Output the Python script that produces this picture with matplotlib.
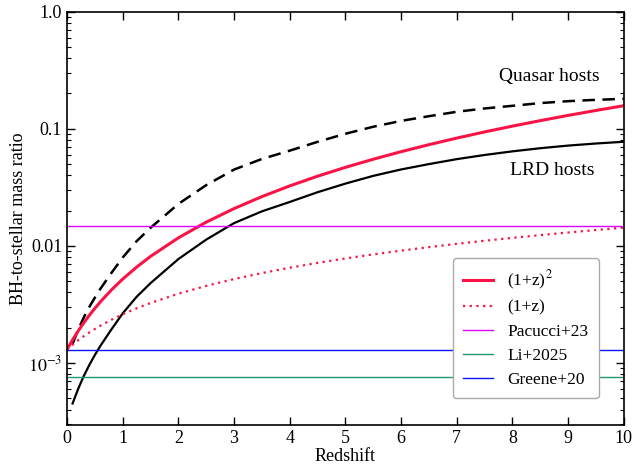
import numpy as np
import matplotlib
matplotlib.use("Agg")
import matplotlib.pyplot as plt
from matplotlib.ticker import FixedLocator, FixedFormatter, LogLocator, NullFormatter

plt.rcParams['font.family'] = ['Liberation Serif', 'DejaVu Serif']
plt.rcParams['mathtext.fontset'] = 'stix'

# Redshift grid (read points)
z_grid = [0.1, 0.2, 0.3, 0.4, 0.5, 0.6, 0.8, 1.0, 1.25, 1.5, 2.0, 2.5, 3.0, 3.5,
          4.0, 4.5, 5.0, 5.5, 6.0, 6.5, 7.0, 7.5, 8.0, 8.5, 9.0, 9.5, 10.0]
lrd_hosts = [4.50e-4, 6.00e-4, 7.71e-4, 9.59e-4, 1.169e-3, 1.40e-3, 1.94e-3, 2.65e-3,
             3.67e-3, 4.80e-3, 7.71e-3, 0.0113, 0.01563, 0.0197, 0.0237, 0.0287,
             0.0340, 0.0396, 0.0449, 0.0499, 0.0550, 0.0597, 0.0641, 0.0682,
             0.0718, 0.0748, 0.0774]
quasar_hosts = [1.455e-3, 1.92e-3, 2.44e-3, 3.00e-3, 3.61e-3, 4.30e-3, 5.89e-3, 7.94e-3,
                0.01096, 0.01426, 0.0228, 0.0330, 0.0448, 0.0552, 0.0650, 0.0773,
                0.0906, 0.104, 0.1167, 0.128, 0.1396, 0.149, 0.157, 0.1656,
                0.172, 0.1766, 0.180]

z_red = [0.0, 0.1, 0.2, 0.3, 0.4, 0.5, 0.6, 0.8, 1.0, 1.25, 1.5, 2.0, 2.5, 3.0, 3.5,
         4.0, 4.5, 5.0, 5.5, 6.0, 6.5, 7.0, 7.5, 8.0, 8.5, 9.0, 9.5, 10.0]
red_sq = [1.3e-3, 1.573e-3, 1.872e-3, 2.197e-3, 2.548e-3, 2.925e-3, 3.328e-3, 4.212e-3,
          5.2e-3, 6.581e-3, 8.125e-3, 0.0117, 0.01593, 0.0208, 0.02633, 0.0325,
          0.03933, 0.0468, 0.05493, 0.0637, 0.07313, 0.0832, 0.09393, 0.1053,
          0.1173, 0.1300, 0.1433, 0.1573]
red_lin = [1.3e-3, 1.43e-3, 1.56e-3, 1.69e-3, 1.82e-3, 1.95e-3, 2.08e-3, 2.34e-3,
           2.6e-3, 2.925e-3, 3.25e-3, 3.9e-3, 4.55e-3, 5.2e-3, 5.85e-3, 6.5e-3,
           7.15e-3, 7.8e-3, 8.45e-3, 9.1e-3, 9.75e-3, 0.0104, 0.01105, 0.0117,
           0.01235, 0.0130, 0.01365, 0.0143]

pacucci = 0.0148
li2025 = 7.6e-4
greene = 1.3e-3

ytick_vals = [1e-3, 1e-2, 1e-1, 1.0]
ytick_labels = [r'$10^{-3}$', '0.01', '0.1', '1.0']
xtick_vals = list(range(0, 11))

red = '#fa1446'
fig = plt.figure(figsize=(6.34, 4.66), dpi=100)
ax = fig.add_axes([0.1057, 0.088, 0.8783, 0.887])

ax.plot(z_grid, quasar_hosts, color='black', lw=1.8, ls=(0, (5, 3)))
ax.plot(z_grid, lrd_hosts, color='black', lw=1.6)
ax.plot(z_red, red_sq, color=red, lw=2.2, label=r'(1+z)$^2$')
ax.plot(z_red, red_lin, color=red, lw=1.6, ls=(0, (1, 2)), label='(1+z)')
ax.axhline(pacucci, color='#e000ff', lw=1.0, label='Pacucci+23')
ax.axhline(li2025, color='#1f9a6a', lw=1.0, label='Li+2025')
ax.axhline(greene, color='#0a14ff', lw=1.0, label='Greene+20')

ax.set_yscale('log')
ax.set_xlim(0, 10)
ax.set_ylim(2.95e-4, 1.0)
ax.yaxis.set_major_locator(FixedLocator(ytick_vals))
ax.yaxis.set_major_formatter(FixedFormatter(ytick_labels))
ax.yaxis.set_minor_locator(LogLocator(base=10, subs=np.arange(2, 10)))
ax.yaxis.set_minor_formatter(NullFormatter())
ax.set_xticks(xtick_vals)

ax.tick_params(which='both', direction='in', top=True, right=True, labelsize=13)
ax.tick_params(which='major', length=6, width=1)
ax.tick_params(which='minor', length=3, width=0.8)
for s in ax.spines.values():
    s.set_linewidth(1.2)

ax.set_xlabel('Redshift', fontsize=13, labelpad=1)
ax.set_ylabel('BH-to-stellar mass ratio', fontsize=13)
ax.yaxis.set_label_coords(-0.072, 0.5)

ax.text(8.67, 0.28, 'Quasar hosts', fontsize=14, ha='center', va='center')
ax.text(8.72, 0.0443, 'LRD hosts', fontsize=14, ha='center', va='center')

leg = ax.legend(loc='lower right', bbox_to_anchor=(0.955, 0.065), borderaxespad=0,
                fontsize=12.5, frameon=True, fancybox=True, framealpha=1.0,
                edgecolor='#aaaaaa', handlelength=1.75, handletextpad=0.8,
                borderpad=0.6, labelspacing=0.45)
leg.get_frame().set_linewidth(1.0)

fig.savefig('out.png', dpi=100)
